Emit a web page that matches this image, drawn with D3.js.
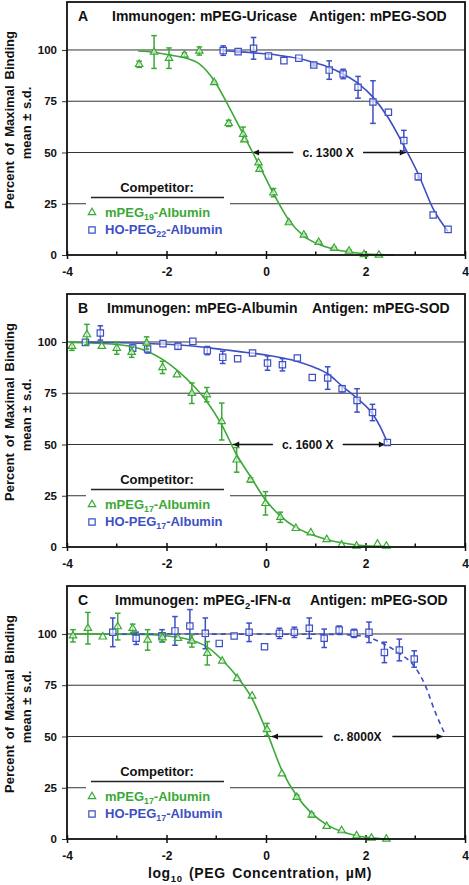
<!DOCTYPE html>
<html><head><meta charset="utf-8">
<script src="https://cdn.jsdelivr.net/npm/d3@7"></script>
<style>
body{margin:0;background:#fff;}
svg{display:block;font-family:"Liberation Sans",Arial,sans-serif;font-weight:bold;}
</style>
</head><body>
<svg id="c" width="469" height="885"></svg>
<script>
// ---------- tick labels ----------
const xMajorTicks = [-4, -2, 0, 2, 4];
const xMinorTicks = [-3, -1, 1, 3];
const yTicks = [0, 25, 50, 75, 100];

// ---------- Panel A ----------
const aGreenX   = [-2.55,-2.25,-1.95,-1.64,-1.34,-1.04,-0.75,-0.46,-0.43,-0.15,-0.13,0.15,0.46,0.76,1.06,1.37,1.67,1.97,2.27];
const aGreenY   = [93.0,99.0,96.0,97.6,99.5,84.1,64.2,58.9,56.2,45.0,41.8,30.4,15.8,9.8,6.2,3.3,1.9,0.3,0.0];
const aGreenErr = [1.5,8,5,1,2,0.5,1.5,3.5,0,0,1,2,0.5,0.5,0.5,0.5,0.5,0.5,0];
const aBlueX    = [-0.86,-0.56,-0.25,0.05,0.36,0.66,0.96,1.27,1.55,1.85,2.15,2.46,2.77,3.06,3.36,3.66];
const aBlueY    = [99.7,99.2,100.8,97.1,94.8,96.0,92.7,90.2,88.3,81.8,74.6,69.6,55.8,38.2,19.5,12.5];
const aBlueErr  = [2.3,0.5,5.3,1,0,0,0.5,4.5,2.3,5.3,10.4,0,5,1.5,0,0];
const aGreenFitX = [-2.57,-2.25,-1.95,-1.64,-1.34,-1.04,-0.75,-0.45,-0.15,0.15,0.46,0.76,1.06,1.37,1.67,1.97,2.27,2.59];
const aGreenFitY = [99.5,98.9,97.6,96.2,93.2,85.0,72.5,58.5,44.5,30.0,17.0,9.2,5.2,2.8,1.5,0.6,0.2,0.0];
const aBlueFitX  = [-0.86,-0.56,-0.25,0.05,0.36,0.66,0.96,1.27,1.55,1.85,2.15,2.46,2.77,3.06,3.36,3.66];
const aBlueFitY  = [99.6,99.2,98.6,98.0,97.0,95.8,93.9,91.5,88.3,83.7,77.0,66.8,53.3,39.5,22.5,11.5];
const aFold = ["c. 1300 X", -0.26, 2.81, 1.25];

// ---------- Panel B ----------
const bGreenX   = [-3.90,-3.60,-3.30,-3.00,-2.70,-2.40,-2.08,-1.79,-1.49,-1.19,-0.89,-0.59,-0.31,-0.01,0.29,0.60,0.90,1.22,1.52,1.82,2.24,2.42];
const bGreenY   = [97.9,103.6,97.9,97.0,95.0,99.5,87.6,84.0,75.0,74.3,61.2,42.5,32.7,21.3,14.5,9.1,7.0,3.7,1.0,0.5,1.5,0.5];
const bGreenErr = [2,5,0,3,2.5,3,3,0,5,3.5,9,6,1,5.7,2.5,0,0,0,0,0,0,0];
const bBlueX    = [-3.63,-3.33,-2.68,-2.38,-2.07,-1.77,-1.47,-1.18,-0.87,-0.57,-0.27,0.03,0.33,0.63,0.93,1.24,1.53,1.83,2.14,2.44];
const bBlueY    = [99.8,104.4,97.0,96.6,99.2,97.9,100.3,95.8,92.5,91.8,94.6,89.7,88.9,92.2,82.7,82.4,77.2,71.5,65.6,51.0];
const bBlueErr  = [0,3.5,1.5,2,0,1.5,0,2,3,0,0,3.5,3,0,0,5.5,1.5,5.7,4,0];
const bGreenFitX = [-3.90,-3.30,-2.70,-2.40,-2.08,-1.79,-1.49,-1.19,-0.89,-0.59,-0.31,-0.01,0.29,0.60,0.90,1.22,1.52,1.82,2.42];
const bGreenFitY = [99.8,99.3,97.8,95.6,91.5,86.3,79.5,71.0,59.6,45.0,34.3,23.0,15.1,9.6,6.2,3.7,2.1,1.0,0.2];
const bBlueFitX  = [-3.63,-2.68,-2.07,-1.47,-0.87,-0.57,0.03,0.63,0.93,1.24,1.53,1.83,2.14,2.29,2.44];
const bBlueFitY  = [100,99.5,99.0,98.0,96.3,95.4,93.5,90.5,88.0,84.5,78.5,72.5,65.0,59.0,51.0];
const bFold = ["c. 1600 X", -0.66, 2.39, 0.84];

// ---------- Panel C ----------
const cGreenX   = [-3.88,-3.58,-3.28,-2.98,-2.68,-2.38,-2.08,-1.77,-1.49,-1.18,-0.88,-0.58,-0.28,0.02,0.32,0.62,0.92,1.22,1.52,1.82,2.12,2.42];
const cGreenY   = [99.1,102.8,98.6,103.6,102.8,97.1,98.2,97.9,96.6,90.6,86.8,78.3,69.8,53.4,31.8,20.4,11.7,6.2,4.1,1.6,0.5,0.0];
const cGreenErr = [3,7.7,0,6.5,2,5,2,0,3,5.7,0,0,0,3,0,1,1,0,0,0,0,0];
const cBlueX    = [-3.08,-2.61,-2.09,-1.83,-1.53,-1.22,-0.94,-0.64,-0.34,-0.03,0.27,0.57,0.87,1.17,1.47,1.77,2.07,2.38,2.68,2.98];
const cBlueY    = [100.8,97.9,99.1,101.5,103.9,100.3,95.4,99.0,100.8,93.8,100.3,100.8,102.8,97.9,101.9,100.3,100.8,91.0,92.2,87.8];
const cBlueErr  = [7,3,3,7,8,7.5,0,0,4.5,0,2.5,2.5,5,4.5,2,2,5,5,5.3,4];
const cGreenFitX = [-3.88,-2.5,-2.08,-1.77,-1.49,-1.18,-0.88,-0.58,-0.28,0.02,0.32,0.62,0.92,1.22,1.52,1.82,2.12,2.42];
const cGreenFitY = [100,99.8,99.3,98.4,96.8,93.6,87.3,79.1,68.5,52.0,33.5,21.0,12.5,7.0,3.6,1.6,0.6,0.0];
const cBlueFitX  = [-3.08,1.47,1.77,2.07,2.38,2.68,2.98,3.2,3.4,3.6];
const cBlueFitY  = [100,99.8,99.4,98.3,95.0,90.5,84.3,75.0,62.0,51.0];
const cFold = ["c. 8000X", 0.12, 3.55, 1.84];

// ---------- text ----------
const panelLetters = ["A","B","C"];
const immunogens = [[["Immunogen: mPEG-Uricase",0]],[["Immunogen: mPEG-Albumin",0]],[["Immunogen: mPEG",0],["2",1],["-IFN-\u03b1",0]]];
const antigenText = "Antigen: mPEG-SOD";
const legendGreen = [[["mPEG",0],["19",1],["-Albumin",0]],[["mPEG",0],["17",1],["-Albumin",0]],[["mPEG",0],["17",1],["-Albumin",0]]];
const legendBlue  = [[["HO-PEG",0],["22",1],["-Albumin",0]],[["HO-PEG",0],["17",1],["-Albumin",0]],[["HO-PEG",0],["17",1],["-Albumin",0]]];

// ---------- drawing ----------
const GREEN = "#3aa935", BLUE = "#3d4fc4";
const svg = d3.select("#c");
const left = 67, pw = 398, ph = 253;
const tops = [2, 294, 586];
const immX = [45, 40, 48], antX = [242, 245, 243];
const x = d3.scaleLinear().domain([-4, 4]).range([0, pw]);
const y = d3.scaleLinear().domain([0, 123.4]).range([ph, 0]);

function richText(sel, parts, size) {
  parts.forEach(([t, sub]) => {
    if (sub) sel.append("tspan").attr("font-size", size*0.68).attr("dy", size*0.25).text(t);
    else {
      const ts = sel.append("tspan").text(t);
      if (sel.selectAll("tspan").size() > 1) ts.attr("dy", -size*0.25);
    }
  });
  return sel;
}

const panels = [
  {gx:aGreenX, gy:aGreenY, ge:aGreenErr, bx:aBlueX, by:aBlueY, be:aBlueErr, gfx:aGreenFitX, gfy:aGreenFitY, bfx:aBlueFitX, bfy:aBlueFitY, fold:aFold, dashed:false},
  {gx:bGreenX, gy:bGreenY, ge:bGreenErr, bx:bBlueX, by:bBlueY, be:bBlueErr, gfx:bGreenFitX, gfy:bGreenFitY, bfx:bBlueFitX, bfy:bBlueFitY, fold:bFold, dashed:false},
  {gx:cGreenX, gy:cGreenY, ge:cGreenErr, bx:cBlueX, by:cBlueY, be:cBlueErr, gfx:cGreenFitX, gfy:cGreenFitY, bfx:cBlueFitX, bfy:cBlueFitY, fold:cFold, dashed:true}
];

const line = d3.line().x(d => x(d[0])).y(d => y(d[1])).curve(d3.curveMonotoneX);
const tri = d3.symbol(d3.symbolTriangle).size(24)();
const sq = d3.symbol(d3.symbolSquare).size(40)();

panels.forEach((p, i) => {
  const g = svg.append("g").attr("transform", `translate(${left},${tops[i]})`);

  // gridlines
  g.selectAll(".grid").data(yTicks.filter(t => t > 0)).enter().append("line")
    .attr("x1", 0).attr("x2", pw).attr("y1", d => y(d)).attr("y2", d => y(d))
    .attr("stroke", "#333").attr("stroke-width", 1);

  // y axis (ticks + labels)
  const ya = g.append("g").call(d3.axisLeft(y).tickValues(yTicks).tickSize(5).tickPadding(5).tickFormat(d => String(d)));
  ya.select(".domain").remove();
  ya.selectAll("line").attr("stroke", "#333");
  ya.selectAll("text").attr("font-size", 11.5).attr("font-weight", "bold").attr("fill", "#111")
    .attr("font-family", '"Liberation Sans",Arial,sans-serif');

  // x axis labels + ticks
  const xa = g.append("g").attr("transform", `translate(0,${ph})`)
    .call(d3.axisBottom(x).tickValues(xMajorTicks).tickSize(4).tickPadding(8).tickFormat(d => String(d)));
  xa.select(".domain").remove();
  xa.selectAll("line").attr("stroke", "#111").attr("stroke-width", 1.5).attr("y1", -4);
  xa.selectAll("text").attr("font-size", 12).attr("font-weight", "bold").attr("fill", "#111")
    .attr("font-family", '"Liberation Sans",Arial,sans-serif');
  g.selectAll(".minor").data(xMinorTicks).enter().append("line")
    .attr("x1", d => x(d)).attr("x2", d => x(d)).attr("y1", ph - 3.5).attr("y2", ph)
    .attr("stroke", "#111").attr("stroke-width", 1.5);

  // legend box
  g.append("rect").attr("x", 19).attr("y", ph - 70).attr("width", 144).attr("height", 58).attr("fill", "#fff");
  g.append("text").attr("x", 90).attr("y", ph - 63).attr("text-anchor", "middle").attr("font-size", 13).attr("fill", "#111").text("Competitor:");
  g.append("line").attr("x1", 24).attr("x2", 157).attr("y1", ph - 57.5).attr("y2", ph - 57.5).attr("stroke", "#222").attr("stroke-width", 1.3);
  g.append("path").attr("d", tri).attr("transform", `translate(25,${ph - 42.5})`).attr("fill", "none").attr("stroke", GREEN).attr("stroke-width", 1.2);
  g.append("path").attr("d", sq).attr("transform", `translate(25,${ph - 25})`).attr("fill", "none").attr("stroke", BLUE).attr("stroke-width", 1.2);
  richText(g.append("text").attr("x", 38).attr("y", ph - 38.5).attr("font-size", 13).attr("fill", GREEN), legendGreen[i], 13);
  richText(g.append("text").attr("x", 38).attr("y", ph - 21).attr("font-size", 13).attr("fill", BLUE), legendBlue[i], 13);

  // fold annotation
  const [lab, f0, f1, fc] = p.fold;
  const yy = y(50);
  g.append("rect").attr("x", x(fc) - 35).attr("y", yy - 6).attr("width", 70).attr("height", 12).attr("fill", "#fff");
  g.append("line").attr("x1", x(f0)).attr("x2", x(fc) - 35).attr("y1", yy).attr("y2", yy).attr("stroke", "#111").attr("stroke-width", 1.3);
  g.append("line").attr("x1", x(fc) + 35).attr("x2", x(f1)).attr("y1", yy).attr("y2", yy).attr("stroke", "#111").attr("stroke-width", 1.3);
  g.append("path").attr("d", `M${x(f0)},${yy}l6,-3l0,6z`).attr("fill", "#111");
  g.append("path").attr("d", `M${x(f1)},${yy}l-6,-3l0,6z`).attr("fill", "#111");
  g.append("text").attr("x", x(fc)).attr("y", yy + 4.3).attr("text-anchor", "middle").attr("font-size", 12).attr("fill", "#111").text(lab);

  // fitted curves
  g.append("path").datum(d3.zip(p.gfx, p.gfy)).attr("d", line).attr("fill", "none").attr("stroke", GREEN).attr("stroke-width", 1.6);
  g.append("path").datum(d3.zip(p.bfx, p.bfy)).attr("d", line).attr("fill", "none").attr("stroke", BLUE).attr("stroke-width", 1.6)
    .attr("stroke-dasharray", p.dashed ? "5,4" : null);

  // error bars + markers
  function series(xs, ys, es, color, shape) {
    const d = d3.zip(xs, ys, es);
    const eb = g.append("g").attr("stroke", color).attr("stroke-width", 1.5);
    d.filter(r => r[2] > 0).forEach(r => {
      const x0 = x(r[0]), y0 = y(r[1] - r[2]), y1 = y(r[1] + r[2]);
      eb.append("line").attr("x1", x0).attr("x2", x0).attr("y1", y0).attr("y2", y1);
      eb.append("line").attr("x1", x0 - 2.8).attr("x2", x0 + 2.8).attr("y1", y0).attr("y2", y0);
      eb.append("line").attr("x1", x0 - 2.8).attr("x2", x0 + 2.8).attr("y1", y1).attr("y2", y1);
    });
    g.append("g").selectAll("path").data(d).enter().append("path")
      .attr("d", shape).attr("transform", r => `translate(${x(r[0])},${y(r[1])})`)
      .attr("fill", "#fff").attr("fill-opacity", 0.6).attr("stroke", color).attr("stroke-width", 1.2);
  }
  series(p.bx, p.by, p.be, BLUE, sq);
  series(p.gx, p.gy, p.ge, GREEN, tri);

  // box
  g.append("rect").attr("x", 0).attr("y", 0).attr("width", pw).attr("height", ph)
    .attr("fill", "none").attr("stroke", "#111").attr("stroke-width", 1.8);

  // header
  g.append("text").attr("x", 11).attr("y", 19).attr("font-size", 14).attr("fill", "#111").text(panelLetters[i]);
  richText(g.append("text").attr("x", immX[i]).attr("y", 19).attr("font-size", 14).attr("fill", "#111"), immunogens[i], 14);
  g.append("text").attr("x", antX[i]).attr("y", 19).attr("font-size", 14).attr("fill", "#111").text(antigenText);

  // y title (left of the panel)
  g.append("text").attr("transform", `translate(${14 - left},118) rotate(-90)`).attr("text-anchor", "middle")
    .attr("font-size", 13).attr("word-spacing", 2.5).attr("fill", "#111").text("Percent of Maximal Binding");
  g.append("text").attr("transform", `translate(${31 - left},121) rotate(-90)`).attr("text-anchor", "middle")
    .attr("font-size", 13).attr("word-spacing", 1).attr("fill", "#111").text("mean \u00b1 s.d.");
});

// x title
const xt = svg.append("text").attr("x", 260).attr("y", 878).attr("text-anchor", "middle")
  .attr("font-size", 14).attr("letter-spacing", 0.6).attr("word-spacing", 2).attr("fill", "#111");
richText(xt, [["log", 0], ["10", 1], [" (PEG Concentration,  \u00b5M)", 0]], 14);
</script>
</body></html>
